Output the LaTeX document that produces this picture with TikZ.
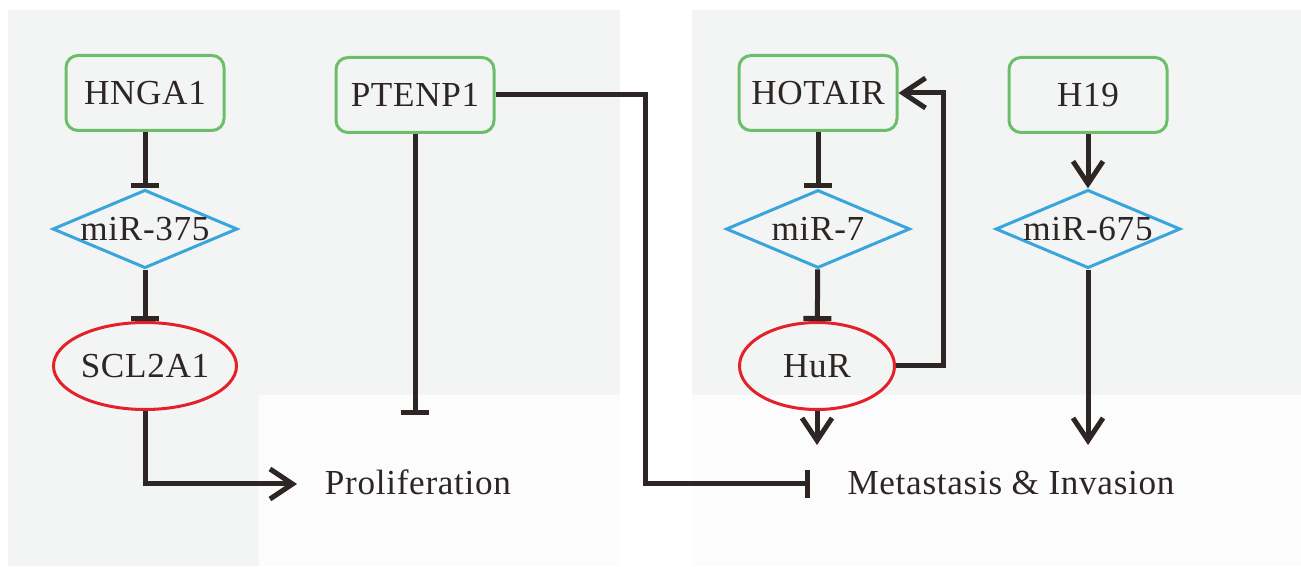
\documentclass[tikz,border=0pt]{standalone}
\usepackage{fontspec}
\setmainfont{Liberation Serif}[LetterSpace=2]
\usepackage{xcolor}
\usepackage{tikz}
\usetikzlibrary{shapes.geometric, arrows.meta, positioning, calc}

\definecolor{verde}{HTML}{6DBE6A}
\definecolor{blu}{HTML}{3AA5DC}
\definecolor{rosso}{HTML}{E4202A}
\definecolor{linea}{HTML}{2E2624}
\definecolor{sfondo}{HTML}{F3F5F4}
\definecolor{chiaro}{HTML}{FCFCFC}

\begin{document}
\begin{tikzpicture}[
    font=\fontsize{20}{24}\selectfont, text=linea,
    gene/.style={rectangle,draw=verde,line width=0.06cm,rounded corners=0.24cm,minimum width=3.16cm,minimum height=1.5cm},
    mirna/.style={diamond,draw=blu,line width=0.06cm,aspect=2.36,inner sep=0pt,minimum width=3.68cm,minimum height=1.56cm},
    prot/.style={ellipse,draw=rosso,line width=0.06cm,inner sep=0pt,minimum height=1.74cm},
    inh/.style={draw=linea,line width=0.1cm,-{Bar[width=0.56cm]}},
    act/.style={draw=linea,line width=0.1cm,-{Straight Barb[length=0.45cm,width=0.6cm]}}]
    \useasboundingbox (0,0) rectangle (26.02,11.32);

    % Sfondi
    \fill[sfondo] (0.16,0) rectangle (12.4,11.12);
    \fill[chiaro] (5.18,0) rectangle (12.4,3.42);
    \fill[sfondo] (13.84,3.42) rectangle (26.02,11.12);
    \fill[chiaro] (13.84,0) rectangle (26.02,3.42);

    % Geni
    \node[gene] (hnga) at (2.9,9.46) {HNGA1};
    \node[gene] (ptenp) at (8.3,9.42) {PTENP1};
    \node[gene] (hotair) at (16.36,9.46) {HOTAIR};
    \node[gene] (h19) at (21.76,9.42) {H19};

    % miRNA
    \node[mirna] (mir375) at (2.9,6.74) {miR-375};
    \node[mirna] (mir7) at (16.36,6.74) {miR-7};
    \node[mirna] (mir675) at (21.76,6.74) {miR-675};

    % Proteine
    \node[prot,minimum width=3.66cm] (scl) at (2.9,4.0) {SCL2A1};
    \node[prot,minimum width=3.1cm] (hur) at (16.34,4.0) {HuR};

    % Esiti
    \node[anchor=base] (prol) at (8.36,1.42) {Proliferation};
    \node[anchor=base] (meta) at (20.22,1.42) {Metastasis \& Invasion};
    \coordinate (prolA) at (5.94,1.64);
    \coordinate (prolT) at (8.3,3.02);
    \coordinate (gomito) at (12.9,1.64);
    \coordinate (metaT) at (16.2,1.64);
    \coordinate (hurA) at (16.34,2.42);
    \coordinate (mirA) at (21.76,2.42);

    % Connessioni
    \draw[inh] (hnga) -- (mir375);
    \draw[inh] (mir375) -- (scl);
    \draw[act] (scl.south) |- (prolA);
    \draw[inh] (ptenp.south) -- (prolT);
    \draw[inh] (ptenp.east) -| (gomito) -- (metaT);
    \draw[inh] (hotair) -- (mir7);
    \draw[inh] (mir7) -- (hur);
    \draw[act] (hur.east) -- ++(0.95,0) |- (hotair.east);
    \draw[act] (hur.south) -- (hurA);
    \draw[act] (h19) -- (mir675);
    \draw[act] (mir675.south) -- (mirA);
\end{tikzpicture}
\end{document}
